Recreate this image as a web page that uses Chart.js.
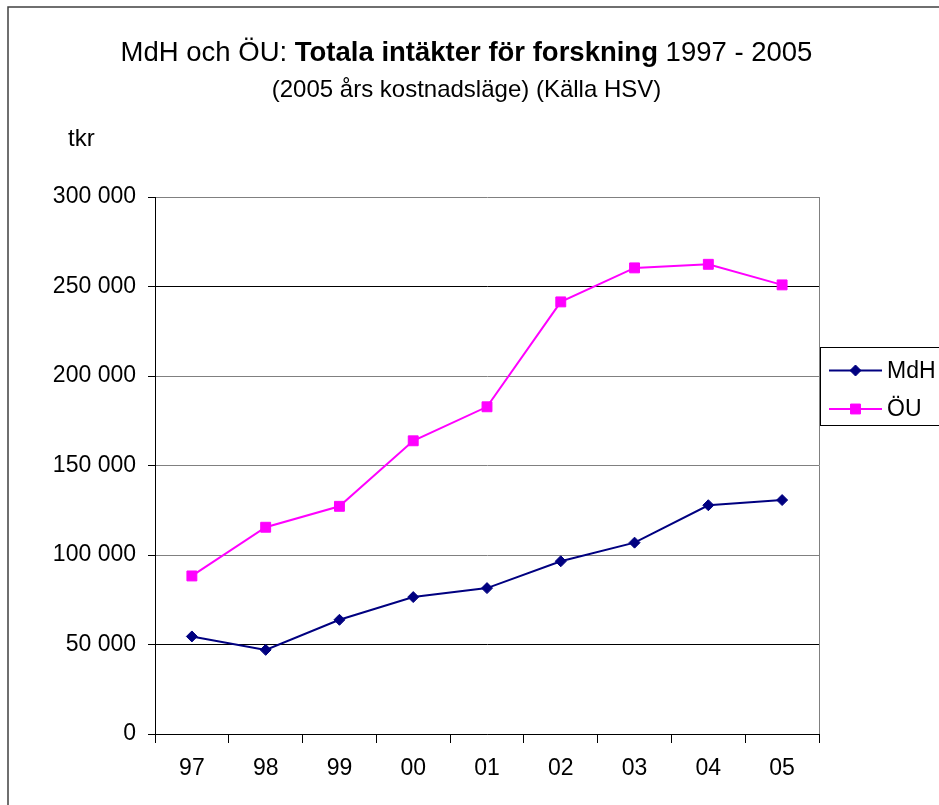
<!DOCTYPE html>
<html lang="sv">
<head>
  <meta charset="UTF-8">
  <title>MdH och ÖU: Totala intäkter för forskning 1997 - 2005</title>
  <script src="https://cdn.jsdelivr.net/npm/chart.js"></script>
  <style>
    body { margin: 0; background: #fff; }
    canvas { display: block; }
  </style>
</head>
<body>
  <canvas id="chart" width="939" height="805"></canvas>

  <script>
    // Years (short form as on the axis)
    const years = ['97', '98', '99', '00', '01', '02', '03', '04', '05'];
    // tkr, 2005 price level
    const mdh = [54500, 47000, 63800, 76500, 81500, 96500, 106900, 127800, 130700];
    const ou  = [88300, 115500, 127200, 163800, 182800, 241400, 260400, 262400, 250900];
    const yTicks = [0, 50000, 100000, 150000, 200000, 250000, 300000];

    const FONT = '"Liberation Sans", Arial, sans-serif';

    // space as thousands separator, like "250 000"
    const fmt = v => String(v).replace(/\B(?=(\d{3})+(?!\d))/g, ' ');

    function marker(ctx, style, x, y, r) {
      ctx.beginPath();
      if (style === 'rectRot') {
        ctx.moveTo(x - r, y); ctx.lineTo(x, y - r);
        ctx.lineTo(x + r, y); ctx.lineTo(x, y + r);
      } else {
        const s = Math.SQRT1_2 * r;
        ctx.rect(x - s, y - s, 2 * s, 2 * s);
      }
      ctx.closePath();
      ctx.fill();
      ctx.stroke();
    }

    // Title, subtitle, unit label, outer frame, plot frame and legend
    const decor = {
      id: 'decor',
      beforeDatasetsDraw(chart) {
        const { ctx, chartArea: a } = chart;
        ctx.save();
        ctx.strokeStyle = '#808080';
        ctx.lineWidth = 1;
        ctx.beginPath();
        ctx.moveTo(a.right + 0.5, a.top);
        ctx.lineTo(a.right + 0.5, a.bottom);
        ctx.stroke();
        ctx.restore();
      },
      afterDraw(chart) {
        const { ctx } = chart;
        ctx.save();

        // outer frame (right/bottom edges fall outside the picture)
        ctx.strokeStyle = '#404040';
        ctx.lineWidth = 1.5;
        ctx.strokeRect(8, 7, 1000, 1000);

        // title with bold middle part
        const parts = [
          ['normal', 'MdH och ÖU: '],
          ['bold', 'Totala intäkter för forskning'],
          ['normal', ' 1997 - 2005']
        ];
        const size = 27.5;
        let total = 0;
        parts.forEach(p => { ctx.font = p[0] + ' ' + size + 'px ' + FONT; total += ctx.measureText(p[1]).width; });
        let x = 466.5 - total / 2;
        ctx.fillStyle = '#000';
        ctx.textBaseline = 'alphabetic';
        ctx.textAlign = 'left';
        parts.forEach(p => {
          ctx.font = p[0] + ' ' + size + 'px ' + FONT;
          ctx.fillText(p[1], x, 61);
          x += ctx.measureText(p[1]).width;
        });

        ctx.font = '24px ' + FONT;
        ctx.textAlign = 'center';
        ctx.fillText('(2005 års kostnadsläge) (Källa HSV)', 466.5, 97);

        ctx.textAlign = 'left';
        ctx.fillText('tkr', 68, 146);

        // legend box
        ctx.fillStyle = '#fff';
        ctx.fillRect(821, 348, 130, 78);
        ctx.strokeStyle = '#000';
        ctx.lineWidth = 1;
        ctx.strokeRect(820.5, 347.5, 130, 78);

        const rows = [370.5, 409];
        chart.data.datasets.forEach((ds, i) => {
          const y = rows[i];
          ctx.strokeStyle = ds.borderColor;
          ctx.lineWidth = ds.borderWidth;
          ctx.beginPath();
          ctx.moveTo(829, y);
          ctx.lineTo(882, y);
          ctx.stroke();
          ctx.fillStyle = ds.pointBackgroundColor;
          ctx.strokeStyle = ds.pointBorderColor;
          ctx.lineWidth = 1;
          marker(ctx, ds.pointStyle, 855.5, y, ds.pointRadius);
          ctx.fillStyle = '#000';
          ctx.font = '23px ' + FONT;
          ctx.textBaseline = 'middle';
          ctx.fillText(ds.label, 887, y + 1);
        });

        ctx.restore();
      }
    };

    new Chart(document.getElementById('chart'), {
      type: 'line',
      data: {
        labels: years,
        datasets: [
          {
            label: 'MdH',
            data: mdh,
            borderColor: '#000080',
            backgroundColor: '#000080',
            pointBackgroundColor: '#000080',
            pointBorderColor: '#000080',
            borderWidth: 2,
            pointStyle: 'rectRot',
            pointRadius: 5.5,
            pointBorderWidth: 1
          },
          {
            label: 'ÖU',
            data: ou,
            borderColor: '#FF00FF',
            backgroundColor: '#FF00FF',
            pointBackgroundColor: '#FF00FF',
            pointBorderColor: '#FF00FF',
            borderWidth: 2,
            pointStyle: 'rect',
            pointRadius: 7,
            pointBorderWidth: 1
          }
        ]
      },
      options: {
        responsive: false,
        animation: false,
        layout: { padding: { top: 197, right: 120, left: 0, bottom: 0 } },
        plugins: {
          legend: { display: false },
          title: { display: false },
          tooltip: { enabled: false }
        },
        scales: {
          x: {
            offset: true,
            afterFit: s => { s.height = 71; },
            grid: {
              offset: true,
              drawOnChartArea: false,
              tickLength: 9,
              tickColor: '#000'
            },
            border: { color: '#000', width: 1 },
            ticks: {
              color: '#000',
              padding: 12,
              maxRotation: 0,
              font: { family: FONT, size: 23 }
            }
          },
          y: {
            min: 0,
            max: 300000,
            afterFit: s => { s.width = 155; },
            afterBuildTicks: s => { s.ticks = yTicks.map(v => ({ value: v })); },
            grid: {
              color: c => (c.tick && (c.tick.value === 50000 || c.tick.value === 250000)) ? '#000' : '#808080',
              tickColor: '#000',
              tickLength: 7,
              lineWidth: 1
            },
            border: { color: '#000', width: 1 },
            ticks: {
              color: '#000',
              padding: 12,
              font: { family: FONT, size: 23 },
              callback: v => fmt(v)
            }
          }
        }
      },
      plugins: [decor]
    });
  </script>
</body>
</html>
